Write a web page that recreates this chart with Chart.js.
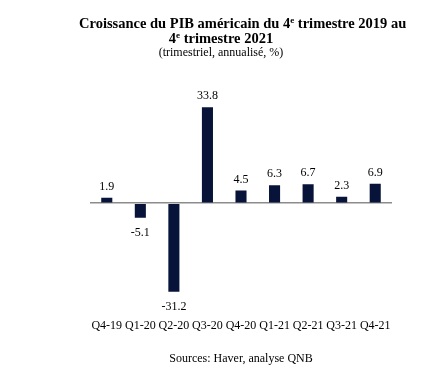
<!DOCTYPE html>
<html>
<head>
<meta charset="utf-8">
<script src="https://cdn.jsdelivr.net/npm/chart.js@4"></script>
<style>
  body { margin: 0; background: #fff; }
  #wrap { position: relative; width: 446px; height: 369px; font-family: "Liberation Serif", "Times New Roman", serif; color: #000; }
  .t { position: absolute; white-space: nowrap; }
  .bold { font-weight: bold; font-size: 14.5px; }
  sup { font-size: 9px; line-height: 0; vertical-align: 5px; }
  canvas { position: absolute; left: 0; top: 0; }
</style>
</head>
<body>
<div id="wrap">
  <canvas id="my-chart" width="446" height="369"></canvas>
  <div class="t bold" style="left:79px; top:15px;">Croissance du PIB américain du 4<sup>e</sup> trimestre 2019 au</div>
  <div class="t bold" style="left:0; width:442px; text-align:center; top:30px;">4<sup>e</sup> trimestre 2021</div>
  <div class="t" style="left:0; width:442px; text-align:center; top:45px; font-size:12px;">(trimestriel, annualisé, %)</div>
  <div class="t" style="left:0; width:482px; text-align:center; top:351px; font-size:12px;">Sources: Haver, analyse QNB</div>
</div>
<script>
const quarters = ['Q4-19', 'Q1-20', 'Q2-20', 'Q3-20', 'Q4-20', 'Q1-21', 'Q2-21', 'Q3-21', 'Q4-21'];
const growth = [1.9, -5.1, -31.2, 33.8, 4.5, 6.3, 6.7, 2.3, 6.9];

// etiquettes de valeur au-dessus / en dessous des barres
const valueLabels = {
  id: 'valueLabels',
  afterDatasetsDraw(chart) {
    const ctx = chart.ctx
    const meta = chart.getDatasetMeta(0)
    ctx.save()
    ctx.font = '12px "Liberation Serif"'
    ctx.fillStyle = '#000'
    ctx.textAlign = 'center'
    meta.data.forEach((bar, i) => {
      const v = growth[i]
      if (v >= 0) {
        ctx.textBaseline = 'bottom'
        ctx.fillText(v.toFixed(1), bar.x, bar.y - 5)
      } else {
        ctx.textBaseline = 'top'
        ctx.fillText(v.toFixed(1), bar.x, bar.y + 9)
      }
    })
    ctx.restore()
  }
}

const ctx = document.getElementById('my-chart').getContext('2d')
const chart = new Chart(ctx, {
  type: 'bar',
  data: {
    labels: quarters,
    datasets: [
      {
        data: growth,
        backgroundColor: '#071338',
        barPercentage: 0.33,
        categoryPercentage: 1
      }
    ]
  },
  options: {
    responsive: false,
    animation: false,
    layout: { padding: { left: 90, right: 54, top: 101, bottom: 20 } },
    plugins: { legend: { display: false }, tooltip: { enabled: false } },
    scales: {
      x: {
        grid: { display: false, drawTicks: false },
        border: { display: false },
        ticks: { color: '#000', padding: 16, maxRotation: 0, autoSkip: false, font: { family: 'Liberation Serif', size: 12 } }
      },
      y: {
        min: -35,
        max: 36,
        border: { display: false },
        ticks: { display: false, stepSize: 1 },
        grid: {
          drawTicks: false,
          lineWidth: 1.5,
          color: c => c.tick.value === 0 ? '#8c8c8c' : 'rgba(0,0,0,0)'
        }
      }
    }
  },
  plugins: [valueLabels]
}); // fin du chart
</script>
</body>
</html>
